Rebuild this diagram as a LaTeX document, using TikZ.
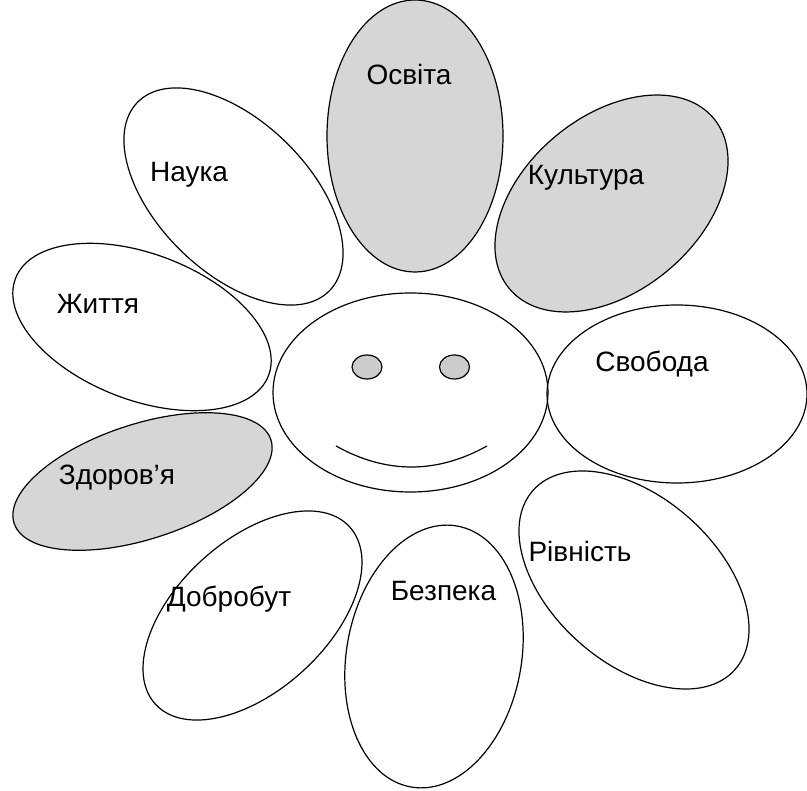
\documentclass[tikz,border=0pt]{standalone}
\usepackage{fontspec}
\setmainfont{Liberation Sans}
\usetikzlibrary{shapes.geometric}
\definecolor{PetalGray}{HTML}{D6D6D6}
\definecolor{EyeGray}{HTML}{CCCCCC}
\tikzset{
    petal/.style={ellipse, draw=black, line width=1.2pt, inner sep=0pt},
    petalgray/.style={petal, fill=PetalGray},
    petalsize/.style 2 args={minimum width=#1, minimum height=#2},
    word/.style={font=\fontsize{28}{32}\selectfont, anchor=base, inner sep=0pt}
}
\begin{document}
\begin{tikzpicture}[
        x=1pt, y=1pt,
        face/.style={ellipse, draw=black, line width=1.2pt, inner sep=0pt, minimum width=275pt, minimum height=199pt},
        eye/.style={ellipse, draw=black, line width=1.2pt, fill=EyeGray, inner sep=0pt, minimum width=30pt, minimum height=24pt}
    ]
    \useasboundingbox (0,0) rectangle (807,-791);

    % --- GRAY PETALS ---
    \node[petalgray, petalsize={176pt}{272pt}] (osvita) at (415,-136) {};
    \node[petalgray, petalsize={266pt}{175pt}, rotate=39.8] (kultura) at (611.5,-203.5) {};
    \node[petalgray, petalsize={270pt}{115pt}, rotate=18] (zdorovia) at (142.5,-481.5) {};

    % --- WHITE PETALS ---
    \node[petal, petalsize={269pt}{151pt}, rotate=-44.5] (nauka) at (233.5,-196.5) {};
    \node[petal, petalsize={271pt}{146pt}, rotate=-21] (zhyttia) at (142,-327) {};
    \node[petal, petalsize={263pt}{150pt}, rotate=42.4] (dobrobut) at (252.5,-615.5) {};
    \node[petal, petalsize={175pt}{265pt}, rotate=-10] (bezpeka) at (434,-656.5) {};
    \node[petal, petalsize={270pt}{166pt}, rotate=-41.6] (rivnist) at (634,-580) {};
    \node[petal, petalsize={260pt}{178pt}] (svoboda) at (677,-394) {};

    % --- FACE ---
    \node[face] (head) at (410.5,-392.5) {};
    \node[eye] (lefteye) at (367,-367) {};
    \node[eye] (righteye) at (454.5,-367) {};
    \coordinate (smileL) at (336,-446);
    \coordinate (smileR) at (487,-446);
    \draw[line width=1.2pt] (smileL) .. controls (386.3,-474) and (436.7,-474) .. (smileR);

    % --- LABELS ---
    \node[word] (tosvita) at (409,-85) {Освіта};
    \node[word] (tnauka) at (189,-182) {Наука};
    \node[word] (tkultura) at (586,-185) {Культура};
    \node[word] (tzhyttia) at (98,-314) {Життя};
    \node[word] (tsvoboda) at (652,-372) {Свобода};
    \node[word] (tzdorovia) at (117,-485) {Здоров’я};
    \node[word] (trivnist) at (580,-562) {Рівність};
    \node[word] (tdobrobut) at (229,-607) {Добробут};
    \node[word] (tbezpeka) at (443.5,-601) {Безпека};

\end{tikzpicture}
\end{document}
